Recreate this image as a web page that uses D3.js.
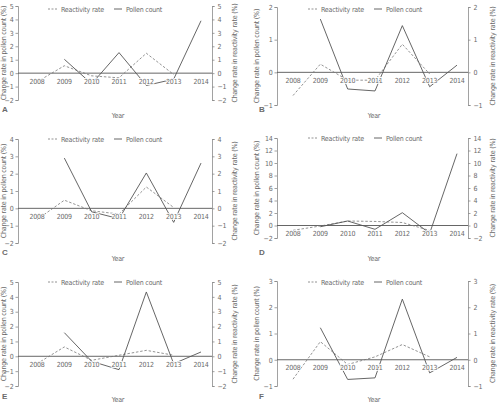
<!DOCTYPE html>
<html><head><meta charset="utf-8">
<script src="https://cdn.jsdelivr.net/npm/d3@7/dist/d3.min.js"></script>
<style>
html,body{margin:0;padding:0;background:#fff;}
svg text{font-family:"Liberation Sans Narrow","DejaVu Sans Condensed","Roboto",sans-serif;fill:#6a6a6a;letter-spacing:-0.2px;}
</style></head>
<body><svg id="c" width="497" height="402"></svg>
<script>
const years = [2008, 2009, 2010, 2011, 2012, 2013, 2014];
// Reactivity rate (2008-2013), Pollen count (2009-2014); null = no value
const reactA  = [-0.65, 0.55, -0.2, -0.35, 1.48, -0.1, null];
const pollenA = [null, 1.03, -0.8, 1.53, -0.92, -0.45, 3.9];
const reactB  = [-0.71, 0.25, -0.24, -0.24, 0.86, -0.05, null];
const pollenB = [null, 1.63, -0.51, -0.57, 1.43, -0.44, 0.22];
const reactC  = [-0.65, 0.47, -0.14, -0.33, 1.23, 0.05, null];
const pollenC = [null, 2.9, -0.2, -0.6, 2.04, -0.81, 2.61];
const reactD  = [-0.77, -0.08, 0.72, 0.65, 0.48, -0.8, null];
const pollenD = [null, -0.2, 0.72, -0.61, 2.05, -1.25, 11.5];
const reactE  = [-0.5, 0.63, -0.27, 0.07, 0.4, 0.07, null];
const pollenE = [null, 1.59, -0.34, -0.9, 4.33, -0.5, 0.29];
const reactF  = [-0.74, 0.69, -0.18, 0.11, 0.58, 0.11, null];
const pollenF = [null, 1.22, -0.75, -0.69, 2.31, -0.5, 0.09];
const ticksA = [-2, -1, 0, 1, 2, 3, 4, 5];
const ticksB = [-1, 0, 1, 2];
const ticksC = [-2, -1, 0, 1, 2, 3, 4];
const ticksD = [-2, 0, 2, 4, 6, 8, 10, 12, 14];
const ticksE = [-2, -1, 0, 1, 2, 3, 4, 5];
const ticksF = [-1, 0, 1, 2, 3];
const legendLabels = ["Reactivity rate", "Pollen count"];
const xTitle = "Year";
const yTitleLeft = "Change rate in pollen count (%)";
const yTitleRight = "Change rate in reactivity rate (%)";

const panels = [
  {id:"A", react:reactA, pollen:pollenA, ticks:ticksA, col:0, top:6, bot:100, leg:9, yearY:117.5, letY:112},
  {id:"B", react:reactB, pollen:pollenB, ticks:ticksB, col:1, top:7, bot:105, leg:9, yearY:117.5, letY:112},
  {id:"C", react:reactC, pollen:pollenC, ticks:ticksC, col:0, top:139, bot:243, leg:139, yearY:260.5, letY:255},
  {id:"D", react:reactD, pollen:pollenD, ticks:ticksD, col:1, top:138, bot:238, leg:138, yearY:260.5, letY:255},
  {id:"E", react:reactE, pollen:pollenE, ticks:ticksE, col:0, top:282, bot:386, leg:282, yearY:401.5, letY:399},
  {id:"F", react:reactF, pollen:pollenF, ticks:ticksF, col:1, top:281, bot:386, leg:282, yearY:401.5, letY:399}
];
const cols = [
  {L:18, R:212, x0:37, x1:201, legX:48, titleL:3, titleR:234, yearX:118, letX:2},
  {L:277, R:468, x0:293, x1:457, legX:308, titleL:256, titleR:492, yearX:374, letX:259}
];

const svg = d3.select("#c");
const fs = 7;

panels.forEach(p => {
  const c = cols[p.col];
  const g = svg.append("g");
  const x = d3.scaleLinear().domain([years[0], years[years.length-1]]).range([c.x0, c.x1]);
  const y = d3.scaleLinear().domain([d3.min(p.ticks), d3.max(p.ticks)]).range([p.bot, p.top]);

  const la = g.append("g").attr("transform", `translate(${c.L},0)`)
    .call(d3.axisLeft(y).tickValues(p.ticks).tickSize(2.5).tickPadding(2).tickFormat(d3.format("d")));
  const ra = g.append("g").attr("transform", `translate(${c.R},0)`)
    .call(d3.axisRight(y).tickValues(p.ticks).tickSize(2.5).tickPadding(3).tickFormat(d3.format("d")));
  [la, ra].forEach(a => {
    a.select(".domain").attr("stroke", "#8a8a8a").attr("stroke-width", 0.8);
    a.selectAll(".tick line").attr("stroke", "#8a8a8a").attr("stroke-width", 0.8);
    a.selectAll("text").attr("font-size", fs).attr("fill", "#6a6a6a");
  });

  g.append("line").attr("x1", c.L).attr("x2", c.R).attr("y1", y(0)).attr("y2", y(0))
    .attr("stroke", "#555").attr("stroke-width", 0.9);

  const line = d3.line().defined(d => d.v !== null).x(d => x(d.yr)).y(d => y(d.v));
  const rd = years.map((yr, i) => ({yr, v: p.react[i]}));
  const pd = years.map((yr, i) => ({yr, v: p.pollen[i]}));

  g.append("path").attr("d", line(rd)).attr("fill", "none").attr("stroke", "#777")
    .attr("stroke-width", 0.8).attr("stroke-dasharray", "2.5,1.8");
  g.append("path").attr("d", line(pd)).attr("fill", "none").attr("stroke", "#555")
    .attr("stroke-width", 0.9);

  g.append("g").selectAll("text").data(years).join("text")
    .attr("x", d => x(d)).attr("y", y(0) + 10.5)
    .attr("text-anchor", "middle").attr("font-size", fs)
    .attr("stroke", "#fff").attr("stroke-width", 1.6).attr("paint-order", "stroke")
    .text(d => d);

  const lg = g.append("g");
  lg.append("line").attr("x1", c.legX).attr("x2", c.legX + 9).attr("y1", p.leg).attr("y2", p.leg)
    .attr("stroke", "#777").attr("stroke-width", 0.8).attr("stroke-dasharray", "2,1.5");
  lg.append("text").attr("x", c.legX + 13).attr("y", p.leg + 2.5).attr("font-size", fs).text(legendLabels[0]);
  lg.append("line").attr("x1", c.legX + 66).attr("x2", c.legX + 74).attr("y1", p.leg).attr("y2", p.leg)
    .attr("stroke", "#555").attr("stroke-width", 0.9);
  lg.append("text").attr("x", c.legX + 78).attr("y", p.leg + 2.5).attr("font-size", fs).text(legendLabels[1]);

  const midY = (p.top + p.bot) / 2;
  g.append("text").attr("transform", `translate(${c.titleL + 2.5},${midY}) rotate(-90)`)
    .attr("text-anchor", "middle").attr("font-size", fs).text(yTitleLeft);
  g.append("text").attr("transform", `translate(${c.titleR + 2.5},${midY}) rotate(-90)`)
    .attr("text-anchor", "middle").attr("font-size", fs).text(yTitleRight);
  g.append("text").attr("x", c.yearX).attr("y", p.yearY)
    .attr("text-anchor", "middle").attr("font-size", fs).text(xTitle);
  g.append("text").attr("x", c.letX).attr("y", p.letY)
    .attr("font-size", 8).attr("font-weight", "bold").attr("fill", "#333")
    .style("font-family", "'Liberation Sans', Arial, sans-serif").style("letter-spacing", "0").text(p.id);
});
</script></body></html>
